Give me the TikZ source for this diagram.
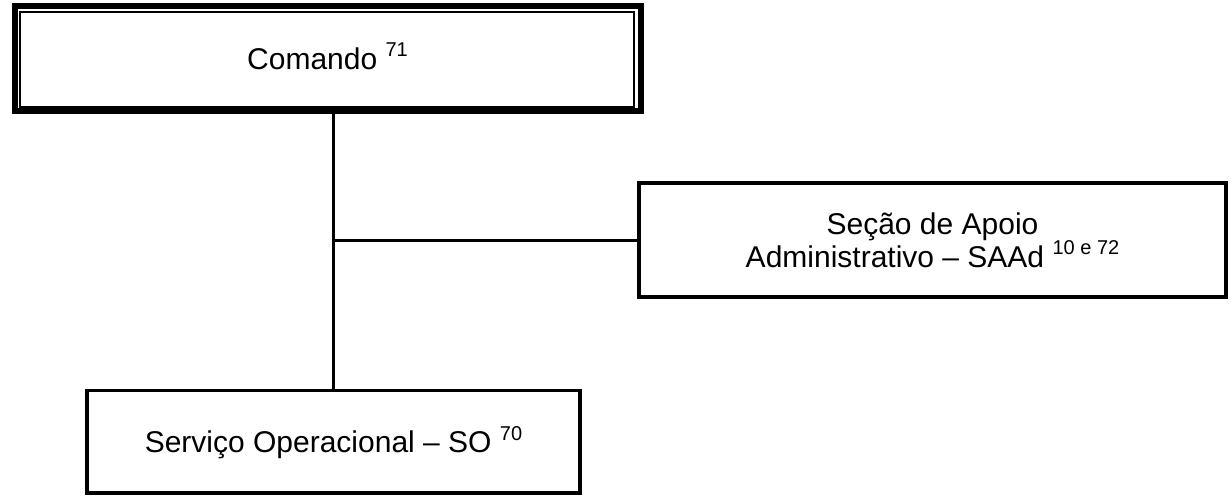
\documentclass[tikz,border=0pt]{standalone}
\usepackage{fontspec}
\setmainfont{Liberation Sans}
\newcommand{\sups}[1]{\smash{\raisebox{0.42em}{\fontsize{20}{20}\selectfont #1}}}
\begin{document}
\begin{tikzpicture}[x=1pt,y=-1pt,
  unitbox/.style={draw, line width=3.5pt, inner sep=0pt, outer sep=0pt,
    align=center, font=\fontsize{30}{33}\selectfont},
  link/.style={line width=3pt}]
  \useasboundingbox (0,0) rectangle (1232,496);
  % command box: thick outer frame with a thin inner frame
  \node[unitbox, line width=6pt, minimum width=626pt, minimum height=105pt]
    (cmd) at (327.5,58.5) {Comando \sups{71}};
  \draw[line width=2pt] ([shift={(5.5,6)}]cmd.north west) rectangle ([shift={(-6.5,-4)}]cmd.south east);
  % subordinate units
  \node[unitbox, minimum width=587pt, minimum height=114pt]
    (saad) at (932.5,240) {Seção de Apoio\\Administrativo – SAAd \sups{10 e 72}};
  \node[unitbox, text depth=0pt, minimum width=493pt, minimum height=102.5pt]
    (so) at (333.5,441.75) {Serviço Operacional – SO \sups{70}};
  % connectors
  \draw[link] (cmd.south -| so.north) -- (so.north);
  \draw[link] (so.north |- saad.west) -- (saad.west);
\end{tikzpicture}
\end{document}
